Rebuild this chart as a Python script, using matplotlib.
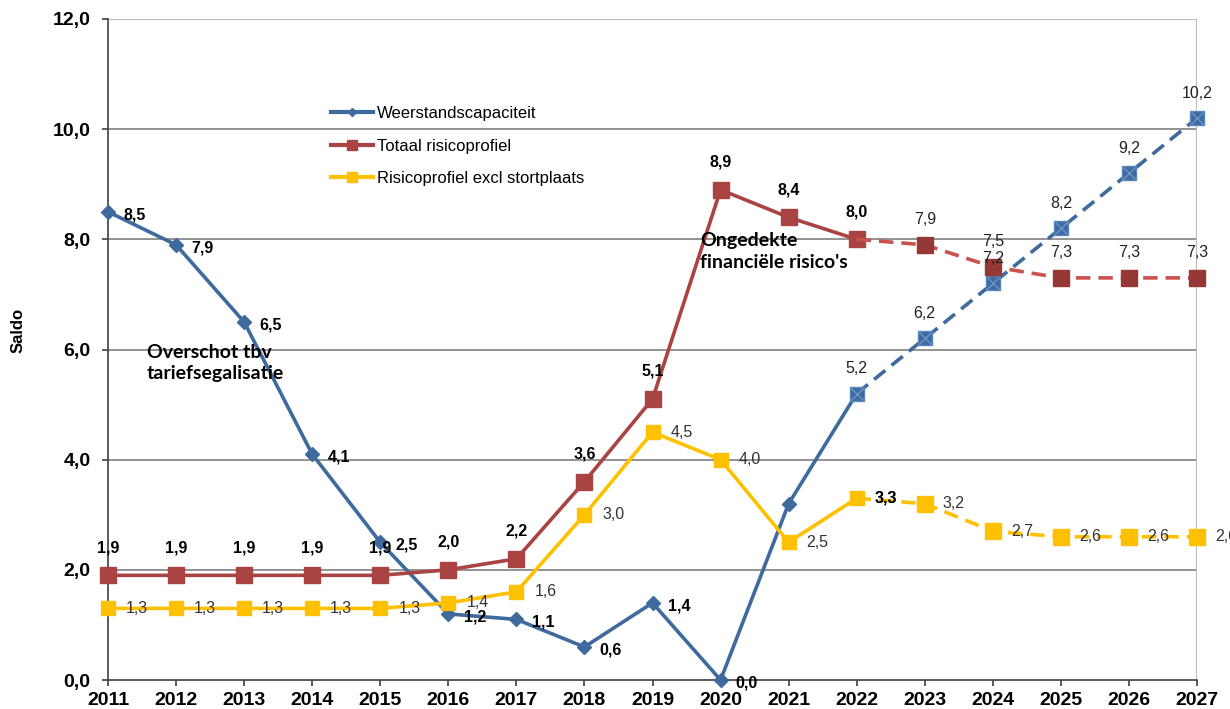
import matplotlib.pyplot as plt
from matplotlib.lines import Line2D

years = list(range(2011, 2028))
weerstand = [8.5, 7.9, 6.5, 4.1, 2.5, 1.2, 1.1, 0.6, 1.4, 0.0, 3.2, 5.2, 6.2, 7.2, 8.2, 9.2, 10.2]
totaal = [1.9, 1.9, 1.9, 1.9, 1.9, 2.0, 2.2, 3.6, 5.1, 8.9, 8.4, 8.0, 7.9, 7.5, 7.3, 7.3, 7.3]
excl = [1.3, 1.3, 1.3, 1.3, 1.3, 1.4, 1.6, 3.0, 4.5, 4.0, 2.5, 3.3, 3.2, 2.7, 2.6, 2.6, 2.6]
names = ["Weerstandscapaciteit", "Totaal risicoprofiel", "Risicoprofiel excl stortplaats"]
split = 11  # 2022: start of forecast (dashed)

BLUE = "#3E6A9E"
RED = "#A94442"
RED_D = "#C9514E"
RED_M = "#963835"
YEL = "#FFC000"

def fmt(v):
    return f"{v:.1f}".replace(".", ",")

plt.rcParams["font.family"] = ["Liberation Sans", "DejaVu Sans"]

fig = plt.figure(figsize=(12.3, 7.09), dpi=100)
ax = fig.add_axes([108 / 1230, 1 - 680 / 709, (1197 - 108) / 1230, (680 - 19) / 709])

# blue
ax.plot(years[:split + 1], weerstand[:split + 1], color=BLUE, lw=2.6, marker="D", ms=7,
        markevery=list(range(split)), zorder=3, clip_on=False)
ax.plot(years[split:], weerstand[split:], color=BLUE, lw=2.6, dashes=(4, 2.2), zorder=3,
        clip_on=False)
ax.plot(years[split:], weerstand[split:], ls="none", marker="s", ms=10, mfc=BLUE,
        mec="#5A86BE", mew=1, zorder=4, clip_on=False)
ax.plot(years[split:], weerstand[split:], ls="none", marker="x", ms=8, mec="#6C96CC",
        mew=1, zorder=4, clip_on=False)

# red
ax.plot(years[:split + 1], totaal[:split + 1], color=RED, lw=2.6, marker="s", ms=11,
        mfc=RED, mec=RED, zorder=3, clip_on=False)
ax.plot(years[split:], totaal[split:], color=RED_D, lw=2.6, dashes=(4, 2.2), zorder=3,
        clip_on=False)
ax.plot(years[split + 1:], totaal[split + 1:], ls="none", marker="s", ms=11, mfc=RED_M,
        mec=RED_M, zorder=4, clip_on=False)

# yellow
ax.plot(years[:split + 1], excl[:split + 1], color=YEL, lw=2.6, marker="s", ms=9.5,
        zorder=3, clip_on=False)
ax.plot(years[split:], excl[split:], color=YEL, lw=2.6, dashes=(4, 2.2), marker="s", ms=11,
        markevery=list(range(1, len(years) - split)), zorder=3, clip_on=False)

# data labels
for i, (x, v) in enumerate(zip(years, weerstand)):
    if i < 10:
        ax.annotate(fmt(v), (x, v), xytext=(11, -2), textcoords="offset points",
                    ha="left", va="center", fontsize=11.5, fontweight="bold", zorder=6)
    elif i >= split:
        ax.annotate(fmt(v), (x, v), xytext=(0, 18), textcoords="offset points",
                    ha="center", va="center", fontsize=11.5, color="#222222", zorder=6)

for i, (x, v) in enumerate(zip(years, totaal)):
    bold = i <= split
    ax.annotate(fmt(v), (x, v), xytext=(0, 20 if bold else 18), textcoords="offset points",
                ha="center", va="center", fontsize=11.5,
                fontweight="bold" if bold else "normal", color="black" if bold else "#222222",
                zorder=6)

for i, (x, v) in enumerate(zip(years, excl)):
    ax.annotate(fmt(v), (x, v), xytext=(13, 0), textcoords="offset points",
                ha="left", va="center", fontsize=11.5, color="#333333", zorder=6,
                annotation_clip=False)
    if i == split:
        ax.annotate(fmt(v), (x, v), xytext=(13, 0), textcoords="offset points",
                    ha="left", va="center", fontsize=11.5, fontweight="bold", zorder=6)

ax.text(2011.57, 5.75, "Overschot tbv\ntariefsegalisatie", family=["Lato", "DejaVu Sans"],
        fontweight="bold", fontsize=14, va="center", ha="left", linespacing=1.3, zorder=6)
ax.text(2019.70, 7.78, "Ongedekte\nfinanciële risico's", family=["Lato", "DejaVu Sans"],
        fontweight="bold", fontsize=14, va="center", ha="left", linespacing=1.35, zorder=6)

# axes styling
ax.set_xlim(2011, 2027)
ax.set_ylim(0, 12)
ax.set_xticks(years)
ax.set_yticks([0, 2, 4, 6, 8, 10, 12])
ax.set_yticklabels([fmt(t) for t in [0, 2, 4, 6, 8, 10, 12]])
for lab in ax.get_xticklabels() + ax.get_yticklabels():
    lab.set_fontweight("bold")
ax.tick_params(axis="both", labelsize=14, direction="out", length=4.5, width=1.2,
               color="#404040")
ax.tick_params(axis="y", pad=8)
ax.tick_params(axis="x", pad=4)
for y in [2, 4, 6, 8, 10]:
    ax.axhline(y, color="#8A8A8A", lw=1.3, zorder=1)
ax.axhline(12, color="#BDBDBD", lw=1.5, zorder=1)
ax.axvline(2027, color="#BDBDBD", lw=1.5, zorder=1)
ax.spines["top"].set_visible(False)
ax.spines["right"].set_visible(False)
for s in ["left", "bottom"]:
    ax.spines[s].set_color("#404040")
    ax.spines[s].set_linewidth(1.2)

fig.text(18 / 1230, 1 - 330 / 709, "Saldo", rotation=90, fontsize=12, fontweight="bold",
         ha="center", va="center")

handles = [
    Line2D([], [], color=BLUE, lw=3, marker="D", ms=4.5),
    Line2D([], [], color=RED, lw=3, marker="s", ms=7),
    Line2D([], [], color=YEL, lw=3, marker="s", ms=7),
]
fig.legend(handles, names, loc="upper left", bbox_to_anchor=(331 / 1230, 1 - 106 / 709),
           frameon=False, fontsize=12, handlelength=2.5, handletextpad=0.25,
           labelspacing=1.05, borderpad=0, borderaxespad=0)

fig.savefig("out.png", dpi=100)
